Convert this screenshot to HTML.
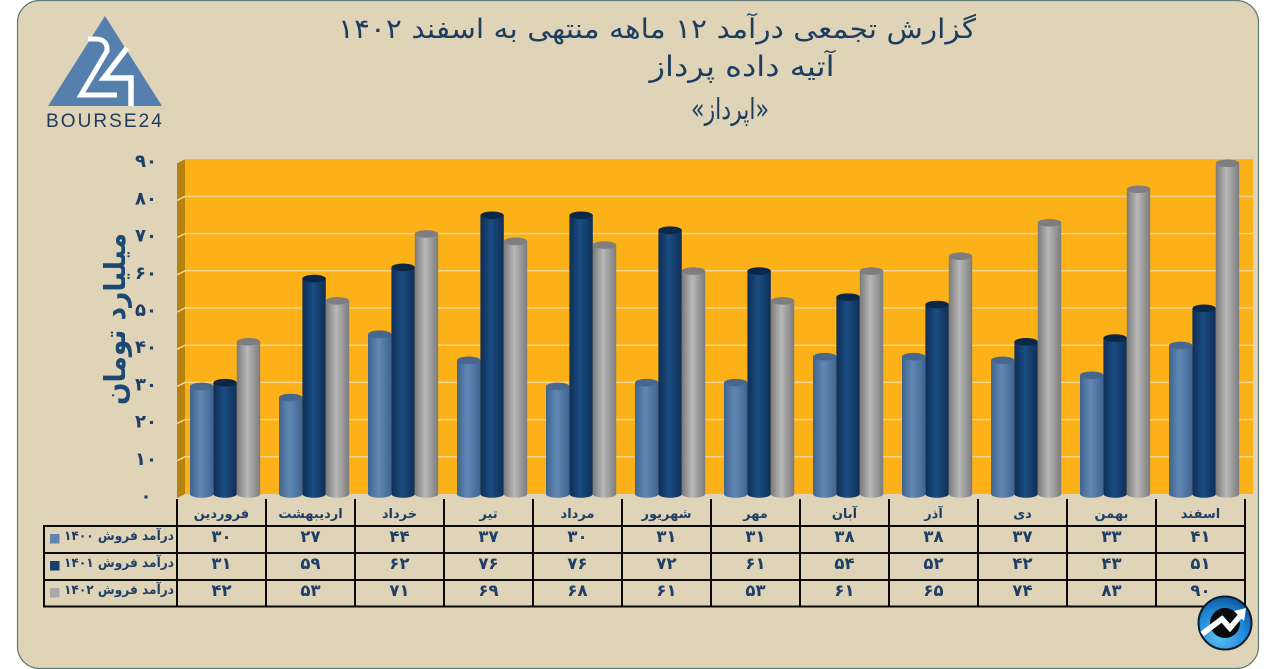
<!DOCTYPE html>
<html lang="fa">
<head>
<meta charset="utf-8">
<title>گزارش تجمعی درآمد</title>
<style>
html,body{margin:0;padding:0;background:#fff;}
body{width:1271px;height:669px;overflow:hidden;}
svg{display:block;font-family:"DejaVu Sans","Liberation Sans",sans-serif;}
</style>
</head>
<body>
<svg id="chart" xmlns="http://www.w3.org/2000/svg" width="1271" height="669" viewBox="0 0 1271 669">
  <defs>
    <linearGradient id="g0" x1="0" x2="1" y1="0" y2="0"><stop offset="0" stop-color="#3f648f"/><stop offset=".45" stop-color="#6188b5"/><stop offset="1" stop-color="#3f6490"/></linearGradient>
    <linearGradient id="g1" x1="0" x2="1" y1="0" y2="0"><stop offset="0" stop-color="#0e2e56"/><stop offset=".45" stop-color="#1b4d82"/><stop offset="1" stop-color="#0e2e56"/></linearGradient>
    <linearGradient id="g2" x1="0" x2="1" y1="0" y2="0"><stop offset="0" stop-color="#7a7a7a"/><stop offset=".45" stop-color="#b8b8b8"/><stop offset="1" stop-color="#7c7c7c"/></linearGradient>
    <radialGradient id="badge" cx=".4" cy=".75" r=".8"><stop offset="0" stop-color="#5cc0f5"/><stop offset=".6" stop-color="#1e88d8"/><stop offset="1" stop-color="#0c4f96"/></radialGradient>
  </defs>
  <rect x="17.5" y="0.5" width="1241" height="668" rx="22" fill="#dfd3b8" stroke="#5f7a74" stroke-width="1.2"/>

  <g>
    <polygon points="105,16 162,106 48,106" fill="#5580ae"/>
    <path d="M88,39 H95 Q108,39 107,51 L81,95 H117" fill="none" stroke="#fff" stroke-width="5"/>
    <path d="M127,48 L104,78 H131 V106" fill="none" stroke="#fff" stroke-width="5.5"/>
    <text x="105" y="127" text-anchor="middle" font-family="Liberation Sans" font-size="19" letter-spacing="2.2" fill="#1f3a58" textLength="118">BOURSE24</text>
  </g>

  <g fill="#1d3d5f" text-anchor="middle" direction="rtl">
    <text x="657" y="38" font-size="27" textLength="638" lengthAdjust="spacingAndGlyphs">گزارش تجمعی درآمد ۱۲ ماهه منتهی به اسفند ۱۴۰۲</text>
    <text x="742" y="76" font-size="28" textLength="185" lengthAdjust="spacingAndGlyphs">آتیه داده پرداز</text>
    <text x="730" y="119" font-size="29" textLength="78" lengthAdjust="spacingAndGlyphs">«اپرداز»</text>
  </g>

  <text transform="translate(125,319) rotate(-90)" text-anchor="middle" direction="rtl" font-size="29" font-weight="bold" fill="#1a4a73" textLength="172" lengthAdjust="spacingAndGlyphs">میلیارد تومان</text>

  <g id="plot"></g>
  <g id="table"></g>

  <g>
    <circle cx="1225" cy="623" r="26.5" fill="url(#badge)" stroke="#0b1c2c" stroke-width="2"/>
    <circle cx="1225" cy="623" r="15" fill="#0a0a0a"/>
    <polyline points="1202,634 1222,619 1230,628 1241,615" fill="none" stroke="#fff" stroke-width="5.5"/>
    <polygon points="1246,608 1244,621 1234,611" fill="#fff"/>
  </g>
</svg>
<script>
const categories = ['فروردین','اردیبهشت','خرداد','تیر','مرداد','شهریور','مهر','آبان','آذر','دی','بهمن','اسفند'];
const seriesNames = ['درآمد فروش ۱۴۰۰','درآمد فروش ۱۴۰۱','درآمد فروش ۱۴۰۲'];
const sales1400 = [30,27,44,37,30,31,31,38,38,37,33,41];
const sales1401 = [31,59,62,76,76,72,61,54,52,42,43,51];
const sales1402 = [42,53,71,69,68,61,53,61,65,74,83,90];
const yTicks = [0,10,20,30,40,50,60,70,80,90];

const NS = 'http://www.w3.org/2000/svg';
const plot = document.getElementById('plot');
const table = document.getElementById('table');
const allSeries = [sales1400, sales1401, sales1402];
const capColors = ['#47678e', '#0b2748', '#7e7e7e'];
const swatchColors = ['#5f86b3', '#163f6e', '#a9a9a9'];

const Y_ZERO = 498, UNIT = 3.72, DEPTH_X = 8, DEPTH_Y = 4;
const X_LEFT = 177, COL = 89, PLOT_RIGHT = 1253;
const yScale = function (v) { return Y_ZERO - v * UNIT; };
const groupLeft = function (i) { return X_LEFT + i * COL; };
const toFa = function (n) { return String(n).replace(/\d/g, function (d) { return '۰۱۲۳۴۵۶۷۸۹'[d]; }); };

function mk(parent, tag, attrs, text) {
  const el = document.createElementNS(NS, tag);
  Object.keys(attrs).forEach(function (k) { el.setAttribute(k, attrs[k]); });
  if (text !== undefined) el.textContent = text;
  parent.appendChild(el);
  return el;
}

const wallBack = mk(plot, 'rect', {x: X_LEFT + DEPTH_X, y: yScale(90) - DEPTH_Y, width: PLOT_RIGHT - X_LEFT - DEPTH_X, height: 90 * UNIT, fill: '#fbb117'});


const wallSide = mk(plot, 'polygon', {points: [X_LEFT, yScale(90), X_LEFT + DEPTH_X, yScale(90) - DEPTH_Y, X_LEFT + DEPTH_X, Y_ZERO - DEPTH_Y, X_LEFT, Y_ZERO].join(','), fill: '#b5810f'});



yTicks.forEach(function (t) {
  const y = yScale(t);
  if (t > 0 && t < 90) {
    const grid = mk(plot, 'polyline', {points: [X_LEFT, y, X_LEFT + DEPTH_X, y - DEPTH_Y, PLOT_RIGHT, y - DEPTH_Y].join(','), fill: 'none', stroke: '#f5d48c', 'stroke-width': 1.5});
    
    
  }
  const label = mk(plot, 'text', {x: 146, y: y + 4, 'text-anchor': 'middle', 'font-size': 18, 'font-weight': 'bold', fill: '#1f3f66'}, toFa(t));
  
  
});

categories.forEach(function (c, i) {
  allSeries.forEach(function (series, s) {
    const x = groupLeft(i) + 13 + s * 23.4;
    const w = 23.4, rx = w / 2, ry = 3.8;
    const yt = yScale(series[i]), yb = Y_ZERO - 4;
    const body = mk(plot, 'path', {d: 'M' + x + ',' + yt + ' L' + x + ',' + yb + ' A' + rx + ',' + ry + ' 0 0 0 ' + (x + w) + ',' + yb + ' L' + (x + w) + ',' + yt + ' Z', fill: 'url(#g' + s + ')'});
    
    
    const cap = mk(plot, 'ellipse', {cx: x + rx, cy: yt, rx: rx, ry: ry, fill: capColors[s]});
    
    
  });
});

const ROW_Y = [526, 553, 580, 606.5];
const LINE = {stroke: '#0a0a0a', 'stroke-width': 2};
ROW_Y.forEach(function (y) {
  const h = mk(table, 'line', Object.assign({x1: 43, x2: X_LEFT + 12 * COL + 1, y1: y, y2: y}, LINE));
  
  
});
const left = mk(table, 'line', Object.assign({x1: 44, x2: 44, y1: 525, y2: 607.5}, LINE));


for (let i = 0; i <= categories.length; i++) {
  const v = mk(table, 'line', Object.assign({x1: groupLeft(i), x2: groupLeft(i), y1: 499, y2: 607.5}, LINE));
  
  
}
categories.forEach(function (c, i) {
  const cx = groupLeft(i) + COL / 2;
  const head = mk(table, 'text', {x: cx, y: 518, 'text-anchor': 'middle', direction: 'rtl', 'font-size': 13, 'font-weight': 'bold', fill: '#1f3f66'}, c);
  
  
  allSeries.forEach(function (series, s) {
    const cell = mk(table, 'text', {x: cx, y: 542 + s * 27, 'text-anchor': 'middle', 'font-size': 16.5, 'font-weight': 'bold', fill: '#1f3f66'}, toFa(series[i]));
    
    
  });
});
seriesNames.forEach(function (n, s) {
  const sw = mk(table, 'rect', {x: 50, y: 534 + s * 27, width: 9.5, height: 9.5, fill: swatchColors[s]});
  
  
  const lab = mk(table, 'text', {x: 174, y: 540 + s * 27, 'text-anchor': 'start', direction: 'rtl', 'font-size': 13, 'font-weight': 'bold', fill: '#1f3f66', textLength: 110, lengthAdjust: 'spacingAndGlyphs'}, n);
  
  
});
</script>
</body>
</html>
